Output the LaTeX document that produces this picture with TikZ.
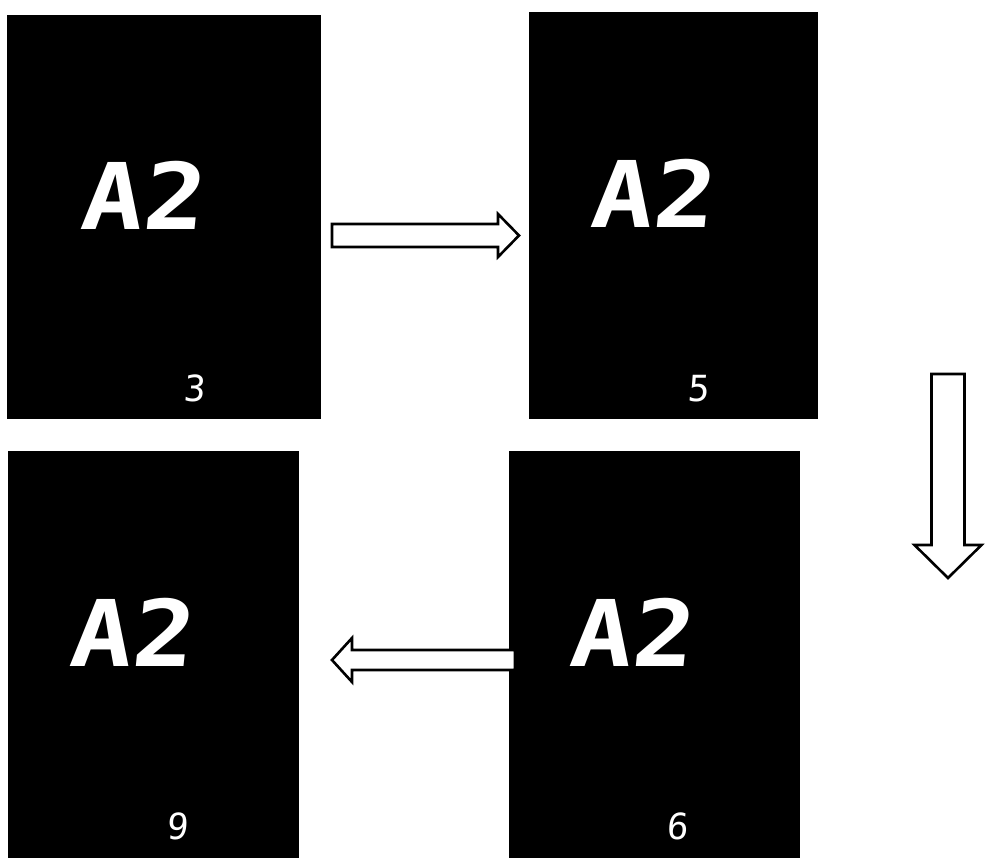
\documentclass[tikz,border=0pt]{standalone}
\usepackage{fontspec}
\usetikzlibrary{calc}
\newfontfamily\segfont[FakeSlant=0.1, FakeStretch=1.12]{DejaVu Sans Mono Bold}
\newfontfamily\smallsegfont[FakeSlant=0.08]{DejaVu Sans Mono}

\newcommand\blockarrow[5]{%
	\coordinate (hb) at ($(#2)!#5!(#1)$);
	\filldraw [fill=white, draw=black, line width=1.3pt, line join=miter]
		($(#1)!#3!90:(#2)$) -- ($(hb)!#3!90:(#2)$) -- ($(hb)!#4!90:(#2)$)
		-- (#2) -- ($(hb)!#4!-90:(#2)$) -- ($(hb)!#3!-90:(#2)$)
		-- ($(#1)!#3!-90:(#2)$) -- cycle;
}

\begin{document}
\begin{tikzpicture}[x=0.5pt, y=-0.5pt,
		screen/.style={fill=black, inner sep=0pt},
		code/.style={text=white, font=\segfont\fontsize{46}{46}\selectfont, inner sep=0pt},
		value/.style={text=white, font=\smallsegfont\fontsize{18}{18}\selectfont, inner sep=0pt}]
	\useasboundingbox (0, 0) rectangle (987, 860);

	\node [screen, minimum width=157pt, minimum height=202pt] (screen1) at (164, 217) {};
	\node [screen, minimum width=144.5pt, minimum height=203.5pt] (screen2) at (673.5, 215.5) {};
	\node [screen, minimum width=145.5pt, minimum height=203.5pt] (screen3) at (153.5, 654.5) {};
	\node [screen, minimum width=145.5pt, minimum height=203.5pt] (screen4) at (654.5, 654.5) {};

	\node [code] (code1) at (142, 195.5) {A2};
	\node [code] (code2) at (651.5, 193.5) {A2};
	\node [code] (code3) at (131, 632) {A2};
	\node [code] (code4) at (631, 632) {A2};

	\node [value] (value1) at (194, 388.5) {3};
	\node [value] (value2) at (698, 388.5) {5};
	\node [value] (value3) at (177.5, 826) {9};
	\node [value] (value4) at (677.5, 826.5) {6};

	\coordinate (a1s) at (332, 235.5);
	\coordinate (a1e) at (519, 235.5);
	\coordinate (a2s) at (948, 374);
	\coordinate (a2e) at (948, 578);
	\coordinate (a3s) at (515, 660);
	\coordinate (a3e) at (332, 660);

	\blockarrow{a1s}{a1e}{5.75pt}{10.75pt}{10.5pt}
	\blockarrow{a2s}{a2e}{8.25pt}{16.75pt}{16.5pt}
	\blockarrow{a3s}{a3e}{5pt}{11pt}{10pt}
\end{tikzpicture}
\end{document}
